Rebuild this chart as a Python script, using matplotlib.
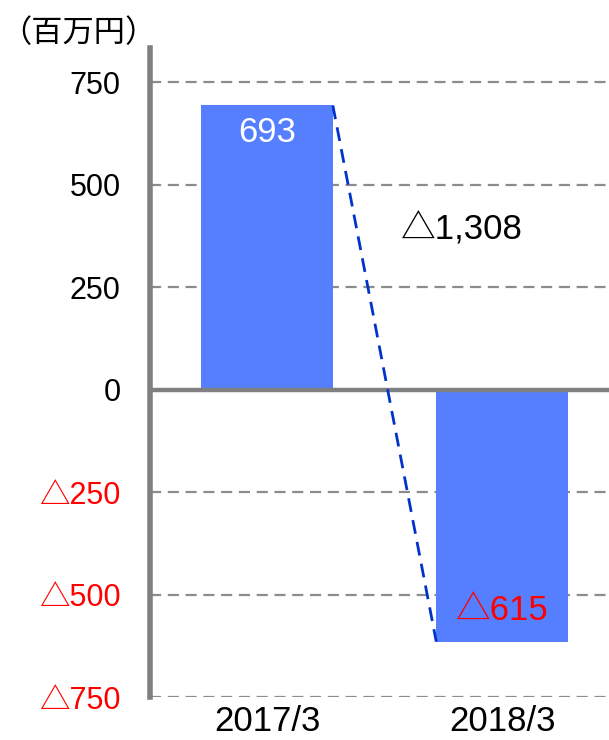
import numpy as np
import matplotlib
matplotlib.use('Agg')
from matplotlib import pyplot as plt

# values in millions of yen
periods = ['2017/3', '2018/3']
profit = [693, -615]
change = profit[1] - profit[0]
yticks = [-750, -500, -250, 0, 250, 500, 750]

fonts = ['Liberation Sans', 'Noto Sans CJK JP']
plt.rcParams['font.family'] = fonts

def fmt(v):
    # negative numbers are written with a triangle
    return '{:,}'.format(v) if v >= 0 else '△{:,}'.format(-v)

fig = plt.figure(figsize=(6.09, 7.4), dpi=100)
ax = fig.add_axes([0.2463, 0.0581, 0.7537, 0.8769])

x = np.arange(len(periods))
w = 0.56
ax.bar(x, profit, width=w, color='#557FFF', zorder=3)

# grid
for t in yticks:
    if t != 0:
        ax.axhline(t, color='#8c8c8c', lw=1.6, ls=(0, (5, 3)), zorder=1)
ax.axhline(0, color='#808080', lw=3.2, zorder=4)

# connector between the two bars
ax.plot([x[0] + w / 2, x[1] - w / 2], [profit[0], profit[1]],
        color='#0033CC', lw=2, ls=(0, (5, 3)), zorder=5)

ax.text(x[0], 626, fmt(profit[0]), color='white', fontsize=25,
        ha='center', va='center', zorder=6)
ax.text(x[1], -538, fmt(profit[1]), color='red', fontsize=25,
        ha='center', va='center', zorder=6)
ax.text(0.83, 389, fmt(change), color='black', fontsize=25,
        ha='center', va='center', zorder=6)

ax.set_xlim(-0.498, 1.455)
ax.set_ylim(-750, 833)
ax.set_yticks(yticks)
ax.set_yticklabels([fmt(t) for t in yticks], fontsize=22)
for lab, t in zip(ax.get_yticklabels(), yticks):
    lab.set_color('red' if t < 0 else 'black')
ax.set_xticks(x)
ax.set_xticklabels(periods, fontsize=25)
ax.tick_params(axis='y', length=0, pad=21)
ax.tick_params(axis='x', length=0, pad=6)

for s in ['top', 'right', 'bottom']:
    ax.spines[s].set_visible(False)
ax.spines['left'].set_color('#808080')
ax.spines['left'].set_linewidth(4)

fig.text(0.0, 0.955, '（百万円）', fontsize=22.5, ha='left', va='center',
         family=['Noto Sans CJK JP', 'DejaVu Sans'])

fig.savefig('out.png', dpi=100)
